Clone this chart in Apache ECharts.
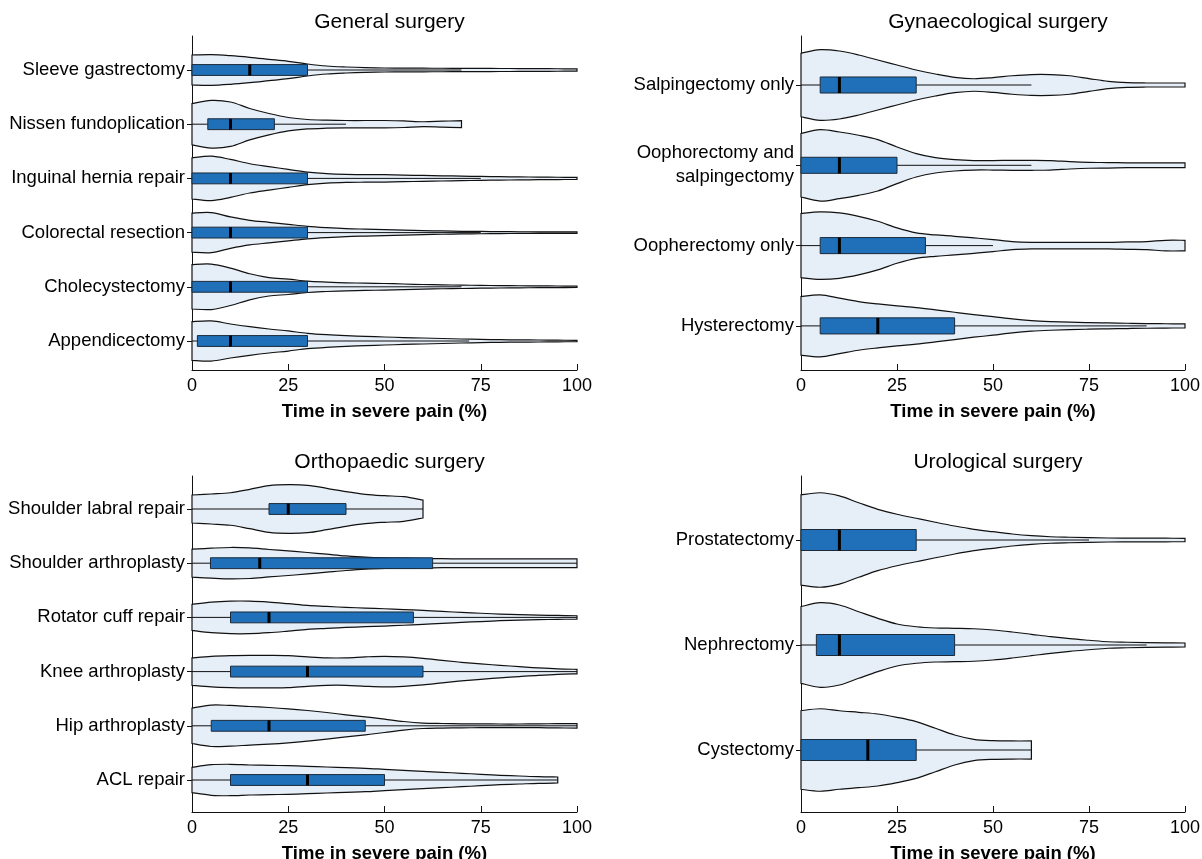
<!DOCTYPE html>
<html>
<head>
<meta charset="utf-8">
<script src="https://cdn.jsdelivr.net/npm/echarts@6/dist/echarts.min.js"></script>
<style>
html,body{margin:0;padding:0;background:#fff;}
#chart{width:1202px;height:859px;}
</style>
</head>
<body>
<div id="chart"></div>
<script>
// ---------- DATA ----------
const xTicks = [0, 25, 50, 75, 100];
const violinGrid = [0,5,10,15,20,25,30,35,40,45,50,55,60,65,70,75,80,85,90,95,100];

// General surgery
const generalCats = ['Sleeve gastrectomy','Nissen fundoplication','Inguinal hernia repair','Colorectal resection','Cholecystectomy','Appendicectomy'];
const generalQ1 = [0, 4.1, 0, 0, 0, 1.4];
const generalMedian = [15, 10, 10, 10, 10, 10];
const generalQ3 = [30, 21.4, 30, 30, 30, 30];
const generalWhiskerLow = [0, 0, 0, 0, 0, 0];
const generalWhiskerHigh = [70, 40, 75, 75, 70, 72];
const generalDensity = [
  [0.277,0.283,0.264,0.234,0.197,0.16,0.111,0.074,0.055,0.043,0.037,0.035,0.033,0.032,0.031,0.03,0.028,0.027,0.025,0.023,0.022],
  [0.38,0.44,0.41,0.29,0.197,0.124,0.087,0.074,0.068,0.068,0.068,0.061,0.045,0.055,0.065],
  [0.38,0.41,0.35,0.27,0.216,0.166,0.116,0.087,0.074,0.07,0.068,0.06,0.055,0.048,0.042,0.036,0.031,0.028,0.024,0.021,0.018],
  [0.36,0.37,0.29,0.227,0.19,0.153,0.116,0.092,0.074,0.064,0.055,0.046,0.037,0.03,0.024,0.021,0.018,0.016,0.015,0.014,0.013],
  [0.41,0.42,0.345,0.24,0.17,0.142,0.105,0.087,0.074,0.067,0.061,0.052,0.042,0.036,0.031,0.026,0.022,0.019,0.017,0.015,0.013],
  [0.356,0.37,0.314,0.264,0.221,0.185,0.142,0.116,0.098,0.085,0.074,0.064,0.055,0.046,0.037,0.03,0.024,0.021,0.018,0.015,0.013]
];

// Gynaecological surgery
const gynCats = ['Salpingectomy only','Oophorectomy and\nsalpingectomy','Oopherectomy only','Hysterectomy'];
const gynQ1 = [5, 0, 5, 5];
const gynMedian = [10, 10, 10, 20];
const gynQ3 = [30, 25, 32.4, 40];
const gynWhiskerLow = [0, 0, 0, 0];
const gynWhiskerHigh = [60, 60, 50, 90];
const gynDensity = [
  [0.395,0.44,0.423,0.374,0.311,0.249,0.187,0.137,0.096,0.078,0.092,0.115,0.13,0.13,0.115,0.08,0.046,0.029,0.025,0.025,0.025],
  [0.395,0.445,0.415,0.374,0.32,0.228,0.146,0.096,0.071,0.059,0.059,0.062,0.062,0.059,0.046,0.037,0.034,0.03,0.029,0.029,0.029],
  [0.4,0.42,0.407,0.365,0.303,0.22,0.158,0.133,0.116,0.096,0.075,0.05,0.041,0.041,0.041,0.041,0.041,0.046,0.05,0.066,0.066],
  [0.365,0.386,0.345,0.303,0.274,0.249,0.228,0.2,0.17,0.141,0.116,0.087,0.066,0.054,0.046,0.041,0.037,0.033,0.029,0.027,0.025]
];

// Orthopaedic surgery
const orthoCats = ['Shoulder labral repair','Shoulder arthroplasty','Rotator cuff repair','Knee arthroplasty','Hip arthroplasty','ACL repair'];
const orthoQ1 = [20, 4.8, 10, 10, 5, 10];
const orthoMedian = [25, 17.6, 20, 30, 20, 30];
const orthoQ3 = [40, 62.5, 57.5, 60, 45, 50];
const orthoWhiskerLow = [0, 0, 0, 0, 0, 0];
const orthoWhiskerHigh = [60, 100, 100, 100, 100, 95];
const orthoDensity = [
  [0.258,0.277,0.3,0.363,0.43,0.448,0.437,0.382,0.319,0.271,0.245,0.227,0.166],
  [0.258,0.277,0.29,0.282,0.253,0.227,0.197,0.166,0.135,0.111,0.098,0.092,0.087,0.083,0.08,0.08,0.08,0.08,0.08,0.08,0.08],
  [0.24,0.282,0.3,0.3,0.282,0.253,0.221,0.203,0.185,0.172,0.16,0.145,0.129,0.11,0.092,0.077,0.061,0.051,0.042,0.036,0.031],
  [0.253,0.282,0.295,0.3,0.3,0.295,0.271,0.253,0.253,0.271,0.282,0.271,0.245,0.208,0.172,0.142,0.116,0.092,0.068,0.05,0.042],
  [0.327,0.382,0.375,0.356,0.338,0.314,0.282,0.245,0.203,0.166,0.124,0.079,0.05,0.042,0.037,0.035,0.033,0.033,0.035,0.04,0.042],
  [0.234,0.282,0.29,0.277,0.271,0.264,0.253,0.24,0.227,0.216,0.197,0.179,0.16,0.142,0.124,0.105,0.087,0.074,0.061,0.055]
];

// Urological surgery
const uroCats = ['Prostatectomy','Nephrectomy','Cystectomy'];
const uroQ1 = [0, 4, 0];
const uroMedian = [10, 10, 17.4];
const uroQ3 = [30, 40, 30];
const uroWhiskerLow = [0, 0, 0];
const uroWhiskerHigh = [75, 90, 60];
const uroDensity = [
  [0.43,0.45,0.42,0.355,0.292,0.245,0.207,0.169,0.133,0.102,0.079,0.057,0.041,0.031,0.026,0.022,0.019,0.018,0.017,0.017,0.016],
  [0.365,0.403,0.381,0.317,0.254,0.2,0.174,0.162,0.159,0.155,0.143,0.124,0.102,0.079,0.06,0.045,0.031,0.026,0.022,0.02,0.019],
  [0.374,0.393,0.374,0.359,0.343,0.311,0.27,0.207,0.143,0.102,0.089,0.086,0.086]
];

const panelTitles = ['General surgery','Gynaecological surgery','Orthopaedic surgery','Urological surgery'];
const xAxisName = 'Time in severe pain (%)';

// ---------- RENDER ----------
const FONT = "'Liberation Sans', Arial, Helvetica, sans-serif";
const VIOLIN_FILL = '#e6eef7';
const BOX_FILL = '#1f70b8';
const INK = '#111';

const panels = [
  {cats: generalCats, q1: generalQ1, med: generalMedian, q3: generalQ3, wlo: generalWhiskerLow, whi: generalWhiskerHigh, dens: generalDensity,
   data: {left:192, width:385, top:42.9, height:325.2}, frame: {left:192, width:385, top:36, height:334}},
  {cats: gynCats, q1: gynQ1, med: gynMedian, q3: gynQ3, wlo: gynWhiskerLow, whi: gynWhiskerHigh, dens: gynDensity,
   data: {left:801, width:384, top:44.85, height:321.2}, frame: {left:801, width:384, top:36, height:334}},
  {cats: orthoCats, q1: orthoQ1, med: orthoMedian, q3: orthoQ3, wlo: orthoWhiskerLow, whi: orthoWhiskerHigh, dens: orthoDensity,
   data: {left:192, width:385, top:481.9, height:325.2}, frame: {left:192, width:385, top:476, height:336}},
  {cats: uroCats, q1: uroQ1, med: uroMedian, q3: uroQ3, wlo: uroWhiskerLow, whi: uroWhiskerHigh, dens: uroDensity,
   data: {left:801, width:384, top:487.5, height:315}, frame: {left:801, width:384, top:476, height:336}}
];

function smoothPath(pts) {
  let d = '';
  for (let i = 0; i < pts.length - 1; i++) {
    const p0 = pts[Math.max(i - 1, 0)], p1 = pts[i], p2 = pts[i + 1], p3 = pts[Math.min(i + 2, pts.length - 1)];
    const c1x = p1[0] + (p2[0] - p0[0]) / 6, c1y = p1[1] + (p2[1] - p0[1]) / 6;
    const c2x = p2[0] - (p3[0] - p1[0]) / 6, c2y = p2[1] - (p3[1] - p1[1]) / 6;
    d += ' C' + c1x.toFixed(2) + ' ' + c1y.toFixed(2) + ' ' + c2x.toFixed(2) + ' ' + c2y.toFixed(2) + ' ' + p2[0].toFixed(2) + ' ' + p2[1].toFixed(2);
  }
  return d;
}

const grids = [], xAxes = [], yAxes = [], series = [], titles = [];
panels.forEach((p, k) => {
  const gData = grids.length;
  grids.push(Object.assign({containLabel:false, outerBoundsMode:'none'}, p.data));
  const gFrame = grids.length;
  grids.push(Object.assign({containLabel:false, outerBoundsMode:'none'}, p.frame));

  const xData = xAxes.length;
  xAxes.push({type:'value', gridIndex:gData, min:0, max:100, show:false});
  const yData = yAxes.length;
  yAxes.push({type:'category', gridIndex:gData, data:p.cats, inverse:true,
    axisLine:{show:false}, axisTick:{show:true, alignWithLabel:true, length:5, lineStyle:{color:INK}},
    axisLabel:{fontSize:18.5, color:'#000', fontFamily:FONT, margin:7, lineHeight:24}, splitLine:{show:false}});
  xAxes.push({type:'value', gridIndex:gFrame, min:0, max:100, interval:25,
    axisLine:{show:true, onZero:false, lineStyle:{color:INK, width:1}},
    axisTick:{show:true, inside:true, length:6, lineStyle:{color:INK}},
    axisLabel:{fontSize:18, color:'#000', fontFamily:FONT, margin:7, formatter: v => xTicks.includes(v) ? String(v) : ''},
    splitLine:{show:false},
    name:xAxisName, nameLocation:'middle', nameGap:32, nameMoveOverlap:false,
    nameTextStyle:{fontSize:18.5, fontWeight:'bold', color:'#000', fontFamily:FONT}});
  yAxes.push({type:'value', gridIndex:gFrame, min:0, max:1,
    axisLine:{show:true, onZero:false, lineStyle:{color:INK, width:1}},
    axisTick:{show:false}, axisLabel:{show:false}, splitLine:{show:false}});

  titles.push({text: panelTitles[k], left: p.frame.left + p.frame.width / 2, top: p.frame.top - 29.5, textAlign:'center',
    textStyle:{fontSize:21, fontWeight:'normal', color:'#000', fontFamily:FONT}});

  const dens = p.dens;
  series.push({
    type:'custom', xAxisIndex:xData, yAxisIndex:yData, silent:true,
    data: p.cats.map((c, i) => [0, i]),
    encode:{x:0, y:1},
    renderItem: function (params, api) {
      const i = api.value(1);
      const d = dens[i];
      const band = api.size([0, 1])[1];
      const cy = api.coord([0, i])[1];
      const top = [], bot = [];
      for (let j = 0; j < d.length; j++) {
        const x = api.coord([violinGrid[j], i])[0];
        top.push([x, cy - d[j] * band]);
        bot.push([x, cy + d[j] * band]);
      }
      const botRev = bot.slice().reverse();
      let path = 'M' + top[0][0].toFixed(2) + ' ' + top[0][1].toFixed(2) + smoothPath(top);
      path += ' L' + botRev[0][0].toFixed(2) + ' ' + botRev[0][1].toFixed(2) + smoothPath(botRev) + ' Z';
      return {type:'path', shape:{pathData:path},
        style:{fill:VIOLIN_FILL, stroke:INK, lineWidth:1.2}};
    }
  });
  series.push({
    type:'custom', xAxisIndex:xData, yAxisIndex:yData, silent:true,
    data: p.cats.map((c, i) => [p.wlo[i], i, p.q1[i], p.med[i], p.q3[i], p.whi[i]]),
    encode:{x:[0,2,3,4,5], y:1},
    renderItem: function (params, api) {
      const i = api.value(1);
      const band = api.size([0, 1])[1];
      const h = band * 0.2;
      const cy = api.coord([0, i])[1];
      const xlo = api.coord([api.value(0), i])[0];
      const xq1 = api.coord([api.value(2), i])[0];
      const xmd = api.coord([api.value(3), i])[0];
      const xq3 = api.coord([api.value(4), i])[0];
      const xhi = api.coord([api.value(5), i])[0];
      const children = [];
      if (xq1 > xlo) children.push({type:'line', shape:{x1:xlo, y1:cy, x2:xq1, y2:cy}, style:{stroke:INK, lineWidth:1}});
      if (xhi > xq3) children.push({type:'line', shape:{x1:xq3, y1:cy, x2:xhi, y2:cy}, style:{stroke:INK, lineWidth:1}});
      children.push({type:'rect', shape:{x:xq1, y:cy - h / 2, width:xq3 - xq1, height:h},
        style:{fill:BOX_FILL, stroke:'#1b2a3a', lineWidth:1}});
      children.push({type:'line', shape:{x1:xmd, y1:cy - h / 2, x2:xmd, y2:cy + h / 2}, style:{stroke:'#000', lineWidth:3}});
      return {type:'group', children:children};
    }
  });
});

const chart = echarts.init(document.getElementById('chart'), null, {renderer:'canvas', width:1202, height:859});
chart.setOption({
  animation:false,
  backgroundColor:'#fff',
  title: titles,
  grid: grids,
  xAxis: xAxes,
  yAxis: yAxes,
  series: series
});
</script>
</body>
</html>
